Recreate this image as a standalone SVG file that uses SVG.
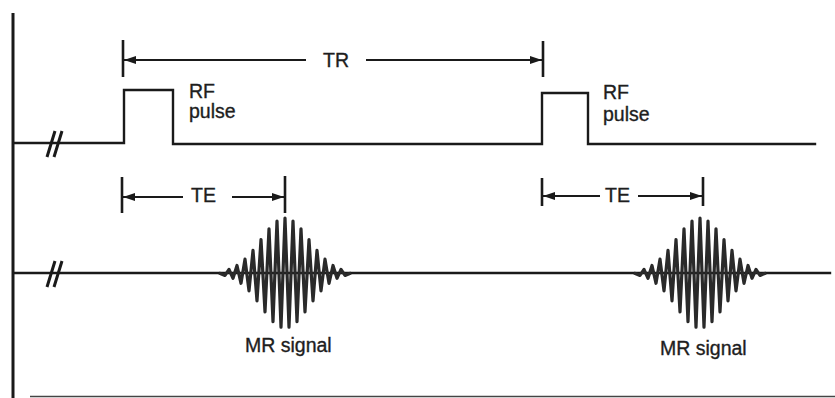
<svg xmlns="http://www.w3.org/2000/svg" width="835" height="398" viewBox="0 0 835 398">
<style>
.ln{fill:none;stroke:#1a1a1a;stroke-width:2.4;stroke-linecap:square}
.brk{fill:none;stroke:#1a1a1a;stroke-width:3}
.thin{fill:none;stroke:#1a1a1a;stroke-width:1.8}
.tick{fill:none;stroke:#1a1a1a;stroke-width:2.6}
.sig{fill:none;stroke:#2a2a2a;stroke-width:3.2;stroke-linejoin:round}
.lbl{font-family:"Liberation Sans",Arial,sans-serif;font-size:19.5px;fill:#1e1e1e;stroke:#1e1e1e;stroke-width:0.35}
</style>
<defs>
<marker id="ah" viewBox="0 0 12 10" refX="12" refY="5" markerWidth="12" markerHeight="10" markerUnits="userSpaceOnUse" orient="auto-start-reverse">
<path d="M0,1 L12,5 L0,9 Z" fill="#1a1a1a"/>
</marker>
<path id="echo" d="M-66,0 L-60,2.4 L-56,-3.6 L-52,5.3 L-48,-7.5 L-44,10.3 L-40,-13.8 L-36,17.9 L-32,-22.7 L-28,27.9 L-24,-33.4 L-20,38.9 L-16,-44.1 L-12,48.6 L-8,-52 L-4,54.2 L0,-55 L4,54.2 L8,-52 L12,48.6 L16,-44.1 L20,38.9 L24,-33.4 L28,27.9 L32,-22.7 L36,17.9 L40,-13.8 L44,10.3 L48,-7.5 L52,5.3 L56,-3.6 L60,2.4 L66,0"/>
</defs>
<rect width="835" height="398" fill="#fff"/>
<g id="frame">
<line x1="13" y1="13" x2="13" y2="398" stroke="#1a1a1a" stroke-width="3"/>
<line x1="30" y1="396.5" x2="835" y2="396.5" stroke="#444" stroke-width="1.5"/>
</g>
<g id="rf-trace">
<path class="ln" d="M14,143 L124,143 L124,90 L173,90 L173,144 L542,144 L542,93 L588,93 L588,144 L815,144"/>
<path class="brk" d="M47,157 L55,131 M54,157 L62,131"/>
</g>
<g id="signal-trace">
<path class="ln" d="M14,273 L830,273"/>
<path class="brk" d="M47,287 L55,261 M54,287 L62,261"/>
<use href="#echo" class="sig" x="285" y="273"/>
<use href="#echo" class="sig" x="700" y="273"/>
</g>
<g id="connectors">
<g id="tr-dim">
<line class="tick" x1="123" y1="40" x2="123" y2="77"/>
<line class="tick" x1="543" y1="41" x2="543" y2="77"/>
<line class="thin" x1="306" y1="60" x2="124" y2="60" marker-end="url(#ah)"/>
<line class="thin" x1="366" y1="60" x2="542" y2="60" marker-end="url(#ah)"/>
</g>
<g id="te1-dim">
<line class="tick" x1="122" y1="177" x2="122" y2="213"/>
<line class="tick" x1="285" y1="176" x2="285" y2="213"/>
<line class="thin" x1="183" y1="197" x2="123" y2="197" marker-end="url(#ah)"/>
<line class="thin" x1="232" y1="197" x2="284" y2="197" marker-end="url(#ah)"/>
</g>
<g id="te2-dim">
<line class="tick" x1="542" y1="178" x2="542" y2="206"/>
<line class="tick" x1="703" y1="177" x2="703" y2="206"/>
<line class="thin" x1="600" y1="196" x2="543" y2="196" marker-end="url(#ah)"/>
<line class="thin" x1="638" y1="196" x2="702" y2="196" marker-end="url(#ah)"/>
</g>
</g>
<g id="labels">
<text class="lbl" x="323" y="67">TR</text>
<text class="lbl" x="189" y="98">RF</text>
<text class="lbl" x="189" y="118">pulse</text>
<text class="lbl" x="603" y="99">RF</text>
<text class="lbl" x="603" y="121">pulse</text>
<text class="lbl" x="191" y="202">TE</text>
<text class="lbl" x="605" y="202">TE</text>
<text class="lbl" x="245" y="352">MR signal</text>
<text class="lbl" x="660" y="355">MR signal</text>
</g>
</svg>
